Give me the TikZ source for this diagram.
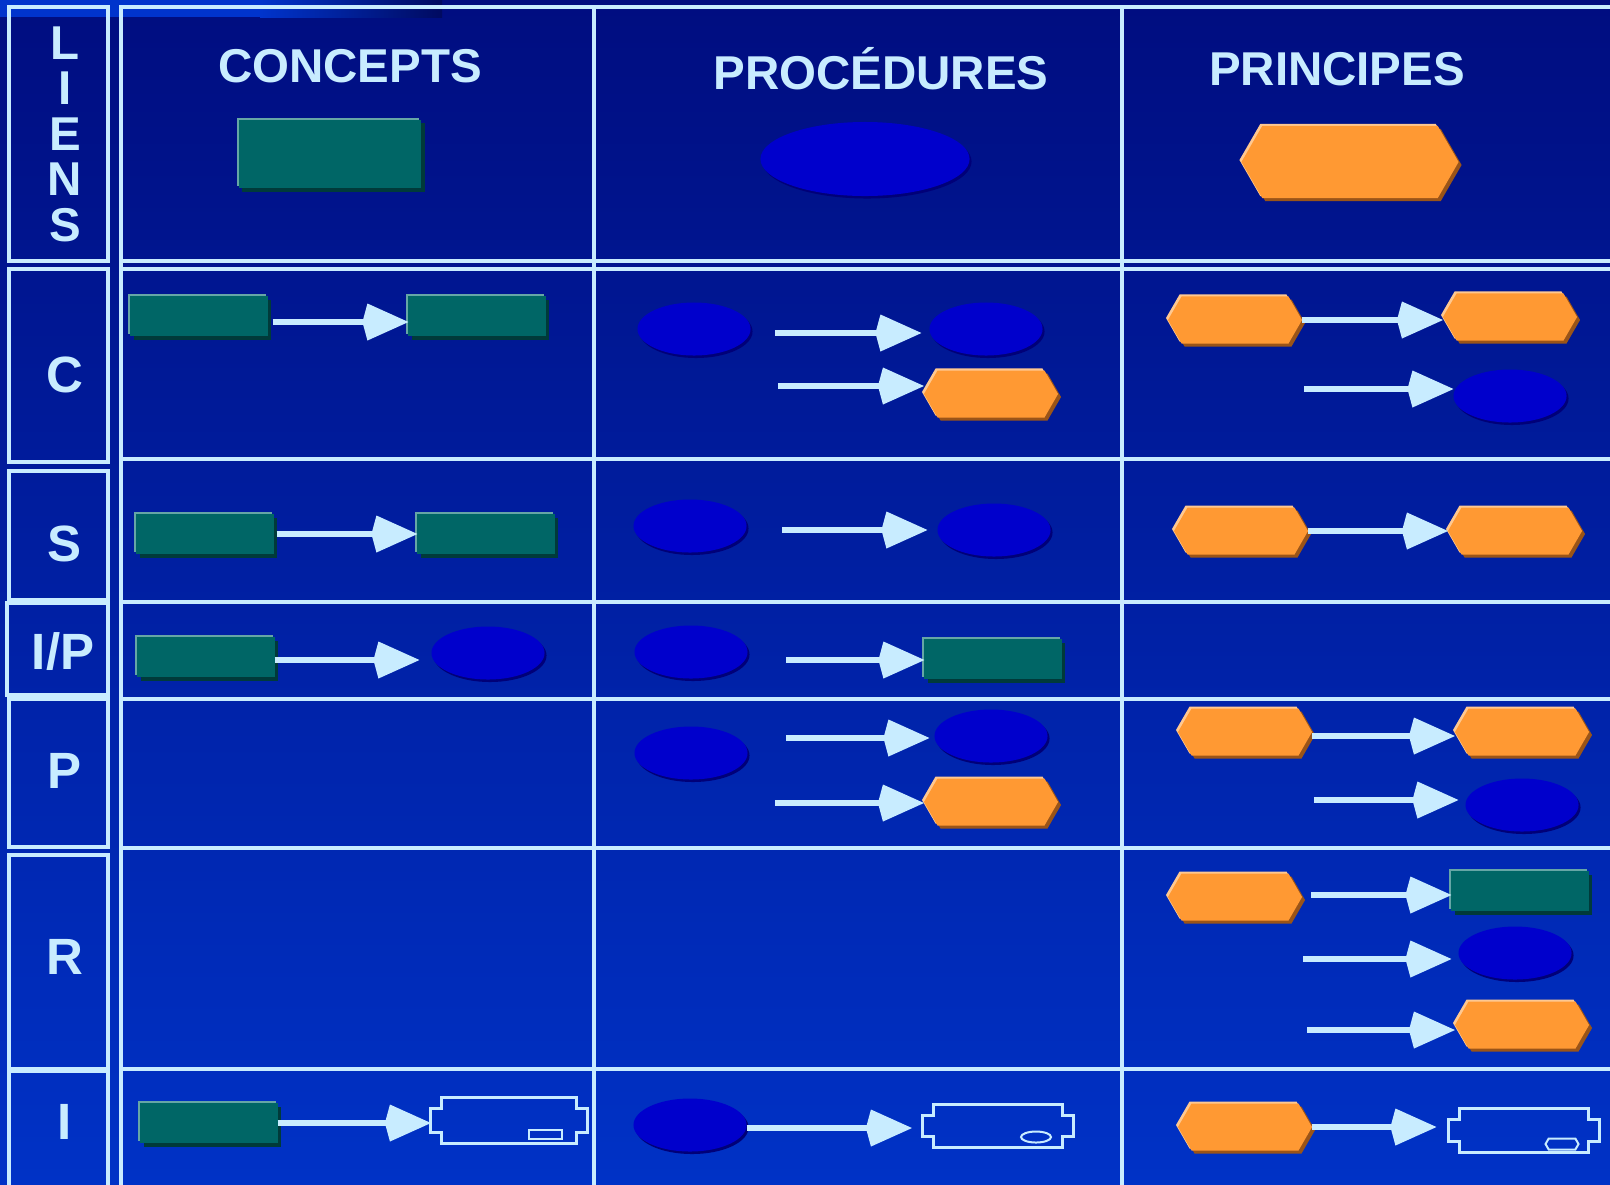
\documentclass[tikz,border=0pt]{standalone}
\usepackage{fontspec}
\newfontfamily\slidefont{Liberation Sans}
\usetikzlibrary{shapes.geometric,shapes.symbols,shadows,arrows.meta}

\definecolor{navytop}{HTML}{000D80}
\definecolor{navybot}{HTML}{0032C6}
\definecolor{stripblue}{HTML}{0034CC}
\definecolor{stripdark}{HTML}{000A60}
\definecolor{paleblue}{HTML}{C8ECFF}
\definecolor{tealfill}{HTML}{006666}
\definecolor{teallight}{HTML}{66A6A6}
\definecolor{tealdark}{HTML}{003A3A}
\definecolor{procfill}{HTML}{0000CC}
\definecolor{procdark}{HTML}{000078}
\definecolor{orangefill}{HTML}{FF9933}
\definecolor{orangelight}{HTML}{FFC890}
\definecolor{orangedark}{HTML}{9A5418}

% outline of a plug: body node plus a tab on each side
\newcommand\plugoutline[1]{%
  \draw[grid, line width=0.03cm] (#1.north west) -- (#1.north east)
    -- ([yshift=-0.11cm]#1.north east) -- ++(0.11cm,0)
    -- ([xshift=0.11cm,yshift=0.11cm]#1.south east) -- ([yshift=0.11cm]#1.south east)
    -- (#1.south east) -- (#1.south west)
    -- ([yshift=0.11cm]#1.south west) -- ++(-0.11cm,0)
    -- ([xshift=-0.11cm,yshift=-0.11cm]#1.north west) -- ([yshift=-0.11cm]#1.north west)
    -- cycle;}

\begin{document}
\begin{tikzpicture}
  [x=0.01cm, y=-0.01cm,
   every node/.style={inner sep=0pt, outer sep=0pt},
   grid/.style={draw=paleblue, line width=0.035cm},
   title/.style={text=paleblue, font=\slidefont\bfseries\fontsize{13.5}{16}\selectfont, anchor=base},
   rowlab/.style={text=paleblue, font=\slidefont\bfseries\fontsize{14.5}{17}\selectfont, anchor=base},
   concept/.style={rectangle, fill=tealfill, minimum width=1.37cm, minimum height=0.4cm,
      general shadow={fill=tealdark, shadow xshift=0.035cm, shadow yshift=-0.035cm},
      general shadow={fill=teallight, shadow xshift=-0.02cm, shadow yshift=0.02cm}},
   procedure/.style={ellipse, fill=procfill, minimum width=1.13cm, minimum height=0.53cm,
      general shadow={fill=procdark, shadow xshift=0.02cm, shadow yshift=-0.025cm}},
   principle/.style={signal, signal to=west and east, signal pointer angle=120, fill=orangefill,
      minimum width=1.34cm, minimum height=0.47cm,
      general shadow={fill=orangedark, shadow xshift=0.03cm, shadow yshift=-0.03cm},
      general shadow={fill=orangelight, shadow xshift=-0.02cm, shadow yshift=0.02cm}},
   plug/.style={rectangle},
   plugmark/.style={draw=paleblue, line width=0.02cm},
   link/.style={draw=paleblue, line width=0.055cm, -{Kite[length=0.46cm,width=0.37cm,inset=0.05cm]}}]

  % background
  \useasboundingbox (0,0) rectangle (1610,1184);
  \shade[top color=navytop, bottom color=navybot] (0,0) rectangle (1610,1184);
  \fill[stripblue] (0,0) rectangle (262,17);
  \shade[left color=stripblue, right color=stripdark] (260,0) rectangle (442,17);

  % table
  \draw[grid] (121,1200) -- (121,7) -- (1620,7);
  \draw[grid] (594,7) -- (594,1200);
  \draw[grid] (1122,7) -- (1122,1200);
  \foreach \y in {261,269,459,602,699,848,1069}
    \draw[grid] (121,\y) -- (1620,\y);

  % row boxes
  \draw[grid] (9,7) rectangle (108,261);
  \draw[grid] (9,269) rectangle (108,462);
  \draw[grid] (9,471) rectangle (108,600);
  \draw[grid] (7,603) rectangle (108,695);
  \draw[grid] (9,699) rectangle (108,847);
  \draw[grid] (9,855) rectangle (108,1069);
  \draw[grid] (9,1071) rectangle (108,1200);

  \foreach \l [count=\i from 0] in {L,I,E,N,S}
    \node[title] (liens\i) at (65,59+45.5*\i) {\l};
  \node[rowlab] (labc) at (65,392) {C};
  \node[rowlab] (labs) at (65,561) {S};
  \node[rowlab] (labip) at (63,669) {I/P};
  \node[rowlab] (labp) at (65,788) {P};
  \node[rowlab] (labr) at (65,974) {R};
  \node[rowlab] (labi) at (65,1139) {I};

  % header
  \node[title] (tcon) at (350,82) {CONCEPTS};
  \node[title] (tpro) at (881,89) {PROCÉDURES};
  \node[title] (tpri) at (1337,85) {PRINCIPES};
  \node[concept, minimum width=1.82cm, minimum height=0.68cm] (hcon) at (330,154) {};
  \node[procedure, minimum width=2.09cm, minimum height=0.74cm] (hpro) at (865,159) {};
  \node[principle, minimum width=2.17cm, minimum height=0.72cm] (hpri) at (1350,162) {};

  % row C
  \node[concept] (ccon1) at (199,316) {};
  \node[concept] (ccon2) at (477,316) {};
  \draw[link, shorten <=0.05cm] ([yshift=-0.06cm]ccon1.east) -- ([yshift=-0.06cm]ccon2.west);
  \node[procedure] (cpro1) at (694,329) {};
  \node[procedure] (cpro2) at (986,329) {};
  \node[principle] (cpro3) at (991,394) {};
  \coordinate (cprot1) at (775,333);
  \coordinate (cprot2) at (778,386);
  \draw[link, shorten >=0.08cm] (cprot1) -- (cprot1 -| cpro2.west);
  \draw[link] (cprot2) -- (cprot2 -| cpro3.west);
  \node[principle] (cpri1) at (1235,320) {};
  \node[principle] (cpri2) at (1510,317) {};
  \node[procedure] (cpri3) at (1510,396) {};
  \coordinate (cprit) at (1304,389);
  \draw[link] (cpri1.east) -- (cpri1.east -| cpri2.west);
  \draw[link] (cprit) -- (cprit -| cpri3.west);

  % row S
  \node[concept] (scon1) at (205,534) {};
  \node[concept] (scon2) at (486,534) {};
  \draw[link, shorten <=0.03cm] (scon1) -- (scon2);
  \node[procedure] (spro1) at (690,526) {};
  \node[procedure] (spro2) at (994,530) {};
  \coordinate (sprot) at (782,530);
  \draw[link, shorten >=0.1cm] (sprot) -- (spro2);
  \node[principle] (spri1) at (1241,531) {};
  \node[principle] (spri2) at (1515,531) {};
  \draw[link] (spri1) -- (spri2);

  % row I/P
  \node[concept] (qcon1) at (206,657) {};
  \node[procedure] (qcon2) at (488,653) {};
  \draw[link, shorten >=0.12cm] ([yshift=-0.03cm]qcon1.east) -- ([yshift=-0.03cm]qcon1.east -| qcon2.west);
  \node[procedure] (qpro1) at (691,652) {};
  \node[concept] (qpro2) at (993,659) {};
  \coordinate (qprot) at (786,660);
  \draw[link] (qprot) -- (qprot -| qpro2.west);

  % row P
  \node[procedure] (ppro1) at (691,753) {};
  \node[procedure] (ppro2) at (991,736) {};
  \node[principle] (ppro3) at (991,802) {};
  \coordinate (pprot1) at (786,738);
  \coordinate (pprot2) at (775,803);
  \draw[link, shorten >=0.05cm] (pprot1) -- (pprot1 -| ppro2.west);
  \draw[link] (pprot2) -- (pprot2 -| ppro3.west);
  \node[principle] (ppri1) at (1245,732) {};
  \node[principle] (ppri2) at (1522,732) {};
  \node[procedure] (ppri3) at (1522,805) {};
  \coordinate (pprit) at (1314,800);
  \draw[link] ([yshift=-0.04cm]ppri1.east) -- ([yshift=-0.04cm]ppri2.west);
  \draw[link, shorten >=0.07cm] (pprit) -- (pprit -| ppri3.west);

  % row R
  \node[principle] (rpri1) at (1235,897) {};
  \node[concept] (rpri2) at (1520,891) {};
  \node[procedure] (rpri3) at (1515,953) {};
  \node[principle] (rpri4) at (1522,1025) {};
  \coordinate (rprit1) at (1311,895);
  \coordinate (rprit2) at (1303,959);
  \coordinate (rprit3) at (1307,1030);
  \draw[link] (rprit1) -- (rprit1 -| rpri2.west);
  \draw[link, shorten >=0.07cm] (rprit2) -- (rprit2 -| rpri3.west);
  \draw[link] (rprit3) -- (rprit3 -| rpri4.west);

  % row I
  \node[concept] (icon1) at (209,1123) {};
  \node[plug, minimum width=1.34cm, minimum height=0.46cm] (icon2) at (509,1120) {};
  \plugoutline{icon2}
  \node[plugmark, rectangle, minimum width=0.33cm, minimum height=0.09cm] (icon3) at (545,1134) {};
  \draw[link, shorten >=0.11cm] (icon1.east) -- (icon1.east -| icon2.west);
  \node[procedure] (ipro1) at (690,1125) {};
  \node[plug, minimum width=1.28cm, minimum height=0.43cm] (ipro2) at (998,1126) {};
  \plugoutline{ipro2}
  \node[plugmark, ellipse, minimum width=0.3cm, minimum height=0.11cm] (ipro3) at (1036,1137) {};
  \draw[link, shorten >=0.22cm] ([yshift=-0.03cm]ipro1.east) -- ([yshift=-0.03cm]ipro1.east -| ipro2.west);
  \node[principle] (ipri1) at (1245,1127) {};
  \node[plug, minimum width=1.29cm, minimum height=0.44cm] (ipri2) at (1524,1130) {};
  \plugoutline{ipri2}
  \node[plugmark, signal, signal to=west and east, signal pointer angle=120,
    minimum width=0.33cm, minimum height=0.11cm] (ipri3) at (1562,1144) {};
  \draw[link, shorten >=0.23cm] (ipri1.east) -- (ipri1.east -| ipri2.west);
\end{tikzpicture}
\end{document}
